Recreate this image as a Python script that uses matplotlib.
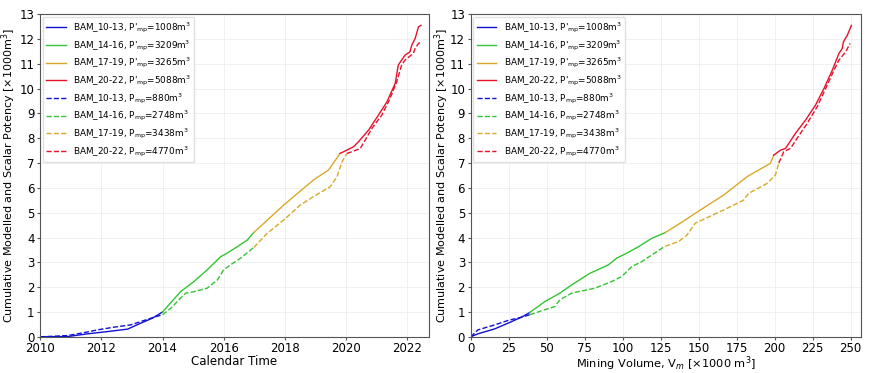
import matplotlib
matplotlib.use("Agg")
import matplotlib.pyplot as plt

plt.rcParams['font.family'] = 'DejaVu Sans'
plt.rcParams['mathtext.default'] = 'regular'

# --- data: (time in decimal years, volume in 1000 m3, potency in 1000 m3) ---
# BAM_10-13
t_10_13_mod = [2010.0, 2010.9, 2011.55, 2012.2, 2012.86, 2013.29, 2013.67, 2014.0]
p_10_13_mod = [0.0, 0.01, 0.12, 0.21, 0.31, 0.55, 0.75, 1.0]
t_10_13_obs = [2010.0, 2010.9, 2011.45, 2011.88, 2012.42, 2012.96, 2013.4, 2013.72, 2014.0]
p_10_13_obs = [0.0, 0.05, 0.17, 0.28, 0.39, 0.48, 0.66, 0.79, 0.89]

# BAM_14-16
t_14_16_mod = [2014.0, 2014.59, 2015.03, 2015.46, 2015.9, 2016.11, 2016.44, 2016.77, 2016.98]
p_14_16_mod = [1.0, 1.82, 2.23, 2.7, 3.23, 3.37, 3.63, 3.9, 4.2]
t_14_16_obs = [2014.0, 2014.27, 2014.59, 2014.76, 2015.03, 2015.46, 2015.79, 2016.0,
               2016.22, 2016.55, 2016.98]
p_14_16_obs = [0.89, 1.15, 1.56, 1.76, 1.82, 1.96, 2.29, 2.7, 2.9, 3.17, 3.6]

# BAM_17-19
t_17_19_mod = [2016.98, 2017.96, 2018.93, 2019.42, 2019.8]
p_17_19_mod = [4.2, 5.31, 6.32, 6.72, 7.39]
t_17_19_obs = [2016.98, 2017.42, 2017.96, 2018.5, 2018.93, 2019.48, 2019.7, 2019.86, 2020.02]
p_17_19_obs = [3.6, 4.17, 4.71, 5.31, 5.65, 6.05, 6.45, 7.05, 7.39]

# BAM_20-22
t_20_22_mod = [2019.8, 2020.02, 2020.24, 2020.4, 2020.73, 2021.05, 2021.33, 2021.6, 2021.7,
               2021.92, 2022.08, 2022.14, 2022.25, 2022.36, 2022.44]
p_20_22_mod = [7.39, 7.52, 7.66, 7.86, 8.33, 8.93, 9.47, 10.21, 10.95,
               11.35, 11.48, 11.75, 12.02, 12.49, 12.55]
t_20_22_obs = [2020.02, 2020.19, 2020.46, 2020.62, 2020.84, 2021.16, 2021.43, 2021.65,
               2021.81, 2021.92, 2022.19, 2022.25, 2022.36, 2022.41]
p_20_22_obs = [7.39, 7.46, 7.59, 7.93, 8.4, 8.93, 9.6, 10.28,
               10.95, 11.15, 11.42, 11.62, 11.82, 11.86]

# against mining volume
v_10_13_mod = [0.0, 4.8, 15.8, 24.6, 33.4, 38.9]
q_10_13_mod = [0.0, 0.12, 0.32, 0.55, 0.79, 0.98]
v_10_13_obs = [0.0, 4.8, 15.8, 24.6, 33.4, 38.9]
q_10_13_obs = [0.0, 0.28, 0.48, 0.66, 0.79, 0.89]

v_14_16_mod = [38.9, 48.8, 58.7, 66.4, 78.5, 90.6, 96.1, 102.7, 110.4, 119.2, 128.0]
q_14_16_mod = [0.98, 1.42, 1.76, 2.09, 2.56, 2.9, 3.17, 3.37, 3.63, 3.97, 4.2]
v_14_16_obs = [38.9, 48.8, 55.4, 58.7, 66.4, 81.8, 92.8, 99.4, 106.0, 112.6, 125.8, 128.0]
q_14_16_obs = [0.89, 1.09, 1.22, 1.49, 1.76, 1.96, 2.23, 2.43, 2.83, 3.03, 3.57, 3.65]

v_17_19_mod = [128.0, 137.9, 151.1, 166.4, 181.8, 197.2, 199.4]
q_17_19_mod = [4.2, 4.58, 5.11, 5.71, 6.45, 6.99, 7.32]
v_17_19_obs = [128.0, 136.8, 142.3, 147.8, 166.4, 179.6, 182.9, 195.0, 200.5, 202.7]
q_17_19_obs = [3.65, 3.84, 4.1, 4.58, 5.11, 5.51, 5.78, 6.18, 6.52, 7.0]

v_20_22_mod = [199.4, 203.8, 207.1, 209.3, 213.7, 220.3, 226.9, 232.4, 237.9, 242.3,
               244.5, 245.2, 247.8, 250.5]
q_20_22_mod = [7.32, 7.52, 7.59, 7.79, 8.2, 8.73, 9.34, 10.0, 10.74, 11.42,
               11.62, 11.88, 12.15, 12.55]
v_20_22_obs = [202.7, 206.0, 210.4, 214.8, 221.4, 228.0, 233.5, 239.0, 242.3, 246.7, 249.6]
q_20_22_obs = [7.0, 7.46, 7.59, 8.0, 8.6, 9.27, 10.0, 10.74, 11.15, 11.48, 11.82]

names = ['BAM_10-13', 'BAM_14-16', 'BAM_17-19', 'BAM_20-22']
p_mod = [1008, 3209, 3265, 5088]
p_obs = [880, 2748, 3438, 4770]
colors = ['#1010d0', '#33c433', '#d8a828', '#e8102a']

time_mod = [(t_10_13_mod, p_10_13_mod), (t_14_16_mod, p_14_16_mod),
            (t_17_19_mod, p_17_19_mod), (t_20_22_mod, p_20_22_mod)]
time_obs = [(t_10_13_obs, p_10_13_obs), (t_14_16_obs, p_14_16_obs),
            (t_17_19_obs, p_17_19_obs), (t_20_22_obs, p_20_22_obs)]
vol_mod = [(v_10_13_mod, q_10_13_mod), (v_14_16_mod, q_14_16_mod),
           (v_17_19_mod, q_17_19_mod), (v_20_22_mod, q_20_22_mod)]
vol_obs = [(v_10_13_obs, q_10_13_obs), (v_14_16_obs, q_14_16_obs),
           (v_17_19_obs, q_17_19_obs), (v_20_22_obs, q_20_22_obs)]

fig = plt.figure(figsize=(8.7, 3.73), dpi=100)
ax1 = fig.add_axes([0.046, 0.097, 0.447, 0.865])
ax2 = fig.add_axes([0.541, 0.097, 0.449, 0.865])


def draw(ax, mod, obs, ylab_x):
    for i in range(4):
        ax.plot(mod[i][0], mod[i][1], color=colors[i], lw=1.0,
                label=f"{names[i]}, P$'_{{mp}}$={p_mod[i]}m$^3$")
    for i in range(4):
        ax.plot(obs[i][0], obs[i][1], color=colors[i], lw=1.0, ls='--',
                label=f"{names[i]}, P$_{{mp}}$={p_obs[i]}m$^3$")
    ax.set_ylim(0, 13)
    ax.set_yticks(range(0, 14))
    ax.grid(True, color='#eeeeee', lw=0.6)
    for s in ax.spines.values():
        s.set_color('#555555')
        s.set_linewidth(0.8)
    ax.tick_params(labelsize=8.5, length=2.5, pad=1.5, color='#555555')
    ax.set_ylabel('Cumulative Modelled and Scalar Potency [×1000m$^3$]', fontsize=8)
    ax.yaxis.set_label_coords(ylab_x, 0.5)
    ax.legend(loc='upper left', fontsize=6.4, labelspacing=0.36, handlelength=2.2,
              borderaxespad=0.3, framealpha=0.9, edgecolor='#dddddd', fancybox=True)


draw(ax1, time_mod, time_obs, -0.056)
ax1.set_xlim(2010, 2022.7)
ax1.set_xticks(range(2010, 2023, 2))
ax1.set_xlabel('Calendar Time', fontsize=8.5, labelpad=0)

draw(ax2, vol_mod, vol_obs, -0.05)
ax2.set_xlim(0, 257)
ax2.set_xticks(range(0, 251, 25))
ax2.set_xlabel('Mining Volume, V$_{\\mathit{m}}$ [×1000 m$^3$]', fontsize=8.2, labelpad=-0.8)

fig.savefig('out.png', dpi=100)
